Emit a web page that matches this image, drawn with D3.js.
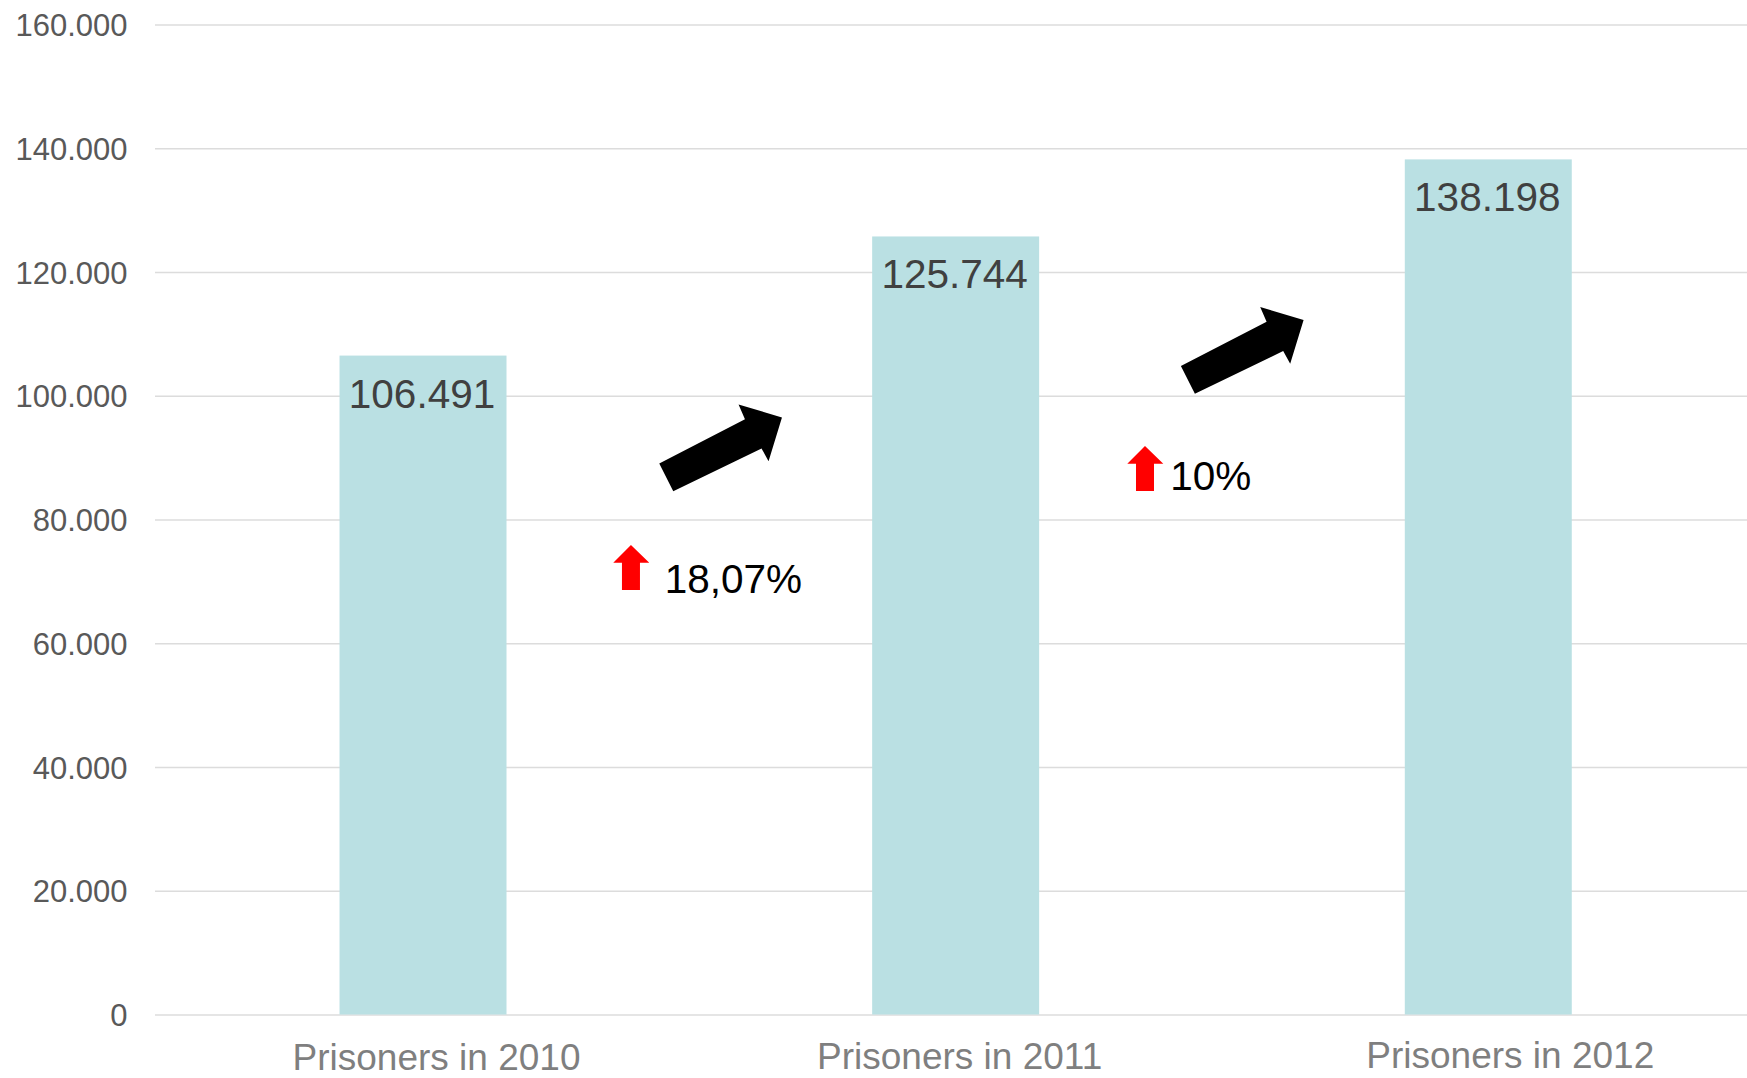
<!DOCTYPE html>
<html>
<head>
<meta charset="utf-8">
<script src="https://cdn.jsdelivr.net/npm/d3@7"></script>
<style>
  html, body { margin: 0; padding: 0; background: #ffffff; }
  svg { display: block; }
  text { font-family: "Liberation Sans", Arial, sans-serif; }
</style>
</head>
<body>
<svg id="chart" width="1747" height="1078"></svg>
<script>
// ---- data ----
const categories = ["Prisoners in 2010", "Prisoners in 2011", "Prisoners in 2012"];
const prisoners = [106491, 125744, 138198];
const yTicks = [0, 20000, 40000, 60000, 80000, 100000, 120000, 140000, 160000];
const changeLabels = ["18,07%", "10%"];

// ---- layout / style ----
const W = 1747, H = 1078;
const plot = { left: 155, right: 1747, top: 24.5, bottom: 1014.5 };
const barColor = "#bae0e3";
const gridColor = "#dcdcdc";
const catLabelDx = [13.5, 4, 22];
const catLabelY = [1069.5, 1069, 1068];

const locale = d3.formatLocale({ decimal: ",", thousands: ".", grouping: [3], currency: ["", ""] });
const fmt = locale.format(",.0f");

const svg = d3.select("#chart");

const x = d3.scaleBand()
  .domain(categories)
  .range([156.7, 1754.6])
  .paddingInner(0.6865)
  .paddingOuter(0.34325);

const y = d3.scaleLinear().domain([0, 160000]).range([plot.bottom, plot.top]);

// grid + y axis
const yAxis = d3.axisLeft(y)
  .tickValues(yTicks)
  .tickSize(-(plot.right - plot.left))
  .tickPadding(27.5)
  .tickFormat(fmt);

const gy = svg.append("g")
  .attr("transform", `translate(${plot.left},0)`)
  .call(yAxis);
gy.select(".domain").remove();
gy.selectAll(".tick line").attr("stroke", gridColor).attr("stroke-width", 1.3);
gy.selectAll(".tick text")
  .attr("fill", "#595959")
  .attr("font-size", 31)
  .attr("font-family", "Liberation Sans, Arial, sans-serif")
  .attr("dy", "0.36em");

// bars
svg.append("g").selectAll("rect")
  .data(prisoners)
  .join("rect")
  .attr("x", (d, i) => x(categories[i]))
  .attr("y", d => y(d))
  .attr("width", x.bandwidth())
  .attr("height", d => y(0) - y(d))
  .attr("fill", barColor);

// value labels
svg.append("g").selectAll("text")
  .data(prisoners)
  .join("text")
  .attr("x", (d, i) => x(categories[i]) + x.bandwidth() / 2 - 1)
  .attr("y", d => y(d) + 52)
  .attr("text-anchor", "middle")
  .attr("fill", "#404040")
  .attr("font-size", 40.5)
  .text(d => fmt(d));

// category labels
svg.append("g").selectAll("text")
  .data(categories)
  .join("text")
  .attr("x", (d, i) => x(d) + x.bandwidth() / 2 + catLabelDx[i])
  .attr("y", (d, i) => catLabelY[i])
  .attr("text-anchor", "middle")
  .attr("fill", "#7f7f7f")
  .attr("font-size", 37)
  .text(d => d);

// ---- annotations: black block arrows and red up arrows with change labels ----
const blockArrow = [[-122.7, 46], [-37, 1.7], [-43.4, -13], [0, 0], [-13.4, 43.7], [-20.4, 31], [-108.7, 73.7]];
const upArrow = [[0, 0], [-17.7, 17.7], [-9, 17.7], [-9, 45], [9, 45], [9, 17.7], [18.3, 17.7]];

// positions relative to the next bar's top-left corner
const blockTip = [
  { dx: -90.2, dy: 181 },
  { dx: -101.2, dy: 160.6 }
];
const upLayout = [
  { ax: 631.7 - 872.9, ay: 545 - 236.4, tx: 665.5 - 872.9, ty: 593 - 236.4 },
  { ax: 1145.7 - 1405.5, ay: 446 - 159.4, tx: 1171 - 1405.5, ty: 490 - 159.4 }
];

const line = d3.line();
changeLabels.forEach((lbl, i) => {
  const nx = x(categories[i + 1]);
  const ny = y(prisoners[i + 1]);
  const bt = blockTip[i];
  svg.append("path")
    .attr("d", line(blockArrow.map(p => [p[0] + nx + bt.dx, p[1] + ny + bt.dy])) + "Z")
    .attr("fill", "#000000");
  const u = upLayout[i];
  svg.append("path")
    .attr("d", line(upArrow.map(p => [p[0] + nx + u.ax, p[1] + ny + u.ay])) + "Z")
    .attr("fill", "#ff0000");
  svg.append("text")
    .attr("x", nx + u.tx)
    .attr("y", ny + u.ty)
    .attr("fill", "#000000")
    .attr("font-size", 40.5)
    .text(lbl);
});
</script>
</body>
</html>
